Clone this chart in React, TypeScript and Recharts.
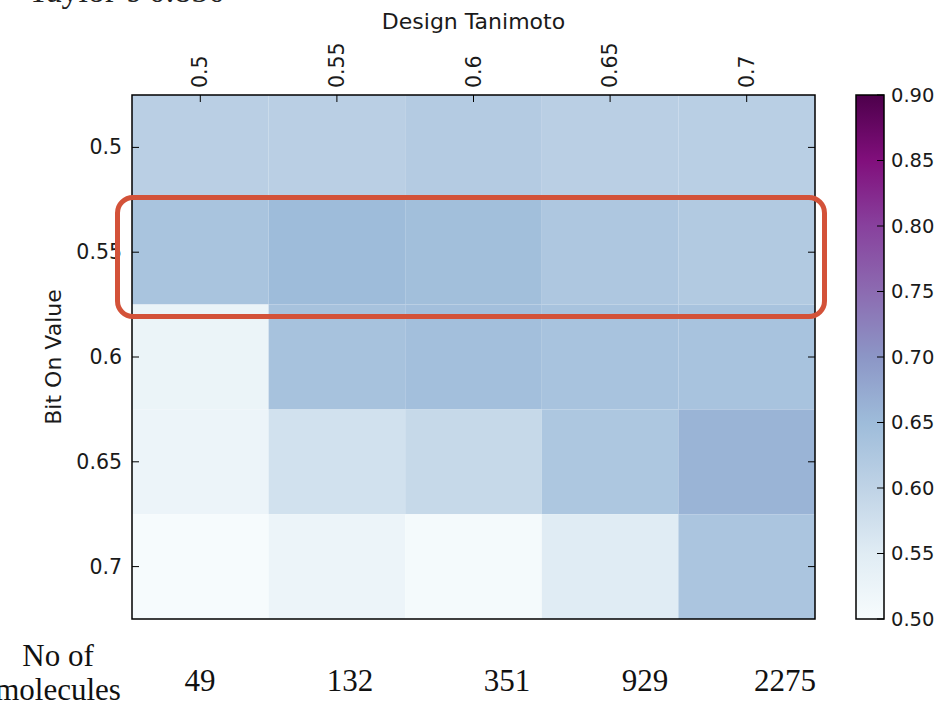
import React from 'react';
import { ScatterChart, Scatter, XAxis, YAxis, ReferenceArea } from 'recharts';

// ---- data ----
const designTanimoto = [0.5, 0.55, 0.6, 0.65, 0.7];
const bitOnValue = [0.5, 0.55, 0.6, 0.65, 0.7];
const moleculeCounts = [49, 132, 351, 929, 2275];
const row050 = [0.608, 0.608, 0.617, 0.608, 0.609];
const row055 = [0.633, 0.65, 0.644, 0.626, 0.62];
const row060 = [0.526, 0.636, 0.643, 0.635, 0.635];
const row065 = [0.524, 0.573, 0.589, 0.627, 0.66];
const row070 = [0.502, 0.524, 0.506, 0.55, 0.63];
const rows = [row050, row055, row060, row065, row070];
const colorbarTicks = [0.5, 0.55, 0.6, 0.65, 0.7, 0.75, 0.8, 0.85, 0.9];
const vMin = 0.5;
const vMax = 0.9;
const halfStep = 0.025;

// slide annotation layout (text placed on the slide under the chart)
const moleculeLabelLeft = [200, 350, 507, 645, 785];

// matplotlib BuPu
const bupu = ['#f7fcfd', '#e0ecf4', '#bfd3e6', '#9ebcda', '#8c96c6', '#8c6bb1', '#88419d', '#810f7c', '#4d004b'];

function hexToRgb(h: string) {
  return [parseInt(h.slice(1, 3), 16), parseInt(h.slice(3, 5), 16), parseInt(h.slice(5, 7), 16)];
}
function colorFor(v: number) {
  let t = (v - vMin) / (vMax - vMin);
  t = Math.max(0, Math.min(1, t));
  const p = t * (bupu.length - 1);
  const i = Math.min(bupu.length - 2, Math.floor(p));
  const f = p - i;
  const a = hexToRgb(bupu[i]);
  const b = hexToRgb(bupu[i + 1]);
  const c = a.map((av, k) => Math.round(av + (b[k] - av) * f));
  return `rgb(${c[0]},${c[1]},${c[2]})`;
}

const cells = bitOnValue.flatMap((b, i) => rows[i].map((v, j) => ({ x: designTanimoto[j], y: b, v })));
const domain: [number, number] = [designTanimoto[0] - halfStep, designTanimoto[designTanimoto.length - 1] + halfStep];

const sans = 'DejaVu Sans';
const serif = 'Liberation Serif';
const ink = '#1a1a1a';

const TopTick = (props: any) => {
  const { x, y, payload } = props;
  return (
    <g>
      <line x1={x} y1={y} x2={x} y2={y + 7} stroke="#000" strokeWidth={1} />
      <text x={x} y={y - 7} transform={`rotate(-90 ${x} ${y - 7})`} textAnchor="start" dominantBaseline="central" fontSize={20.5} fontFamily={sans} fill={ink}>
        {String(payload.value)}
      </text>
    </g>
  );
};

const LeftTick = (props: any) => {
  const { x, y, payload } = props;
  return (
    <g>
      <line x1={x} y1={y} x2={x + 7} y2={y} stroke="#000" strokeWidth={1} />
      <text x={x - 10} y={y} textAnchor="end" dominantBaseline="central" fontSize={20.5} fontFamily={sans} fill={ink}>
        {String(payload.value)}
      </text>
    </g>
  );
};

const RightTick = (props: any) => {
  const { x, y } = props;
  return <line x1={x} y1={y} x2={x - 7} y2={y} stroke="#000" strokeWidth={1} />;
};

const CbTick = (props: any) => {
  const { x, y, payload } = props;
  return (
    <g>
      <line x1={x} y1={y} x2={x - 7} y2={y} stroke="#000" strokeWidth={1} />
      <text x={x + 7} y={y} textAnchor="start" dominantBaseline="central" fontSize={19.5} fontFamily={sans} fill={ink}>
        {Number(payload.value).toFixed(2)}
      </text>
    </g>
  );
};

const NoShape = () => <g />;

export default function App() {
  return (
    <div style={{ position: 'absolute', left: 0, top: 0, width: 941, height: 703, overflow: 'hidden', background: '#fff' }}>
      <svg width={300} height={20} style={{ position: 'absolute', left: 0, top: 0 }}>
        <text x={28} y={2} fontSize={34} fontFamily={serif} fill="#222">Taylor’s 0.850</text>
      </svg>
      <ScatterChart width={941} height={703} margin={{ top: 35, right: 125, bottom: 84, left: 52 }} style={{ position: 'absolute', left: 0, top: 0 }}>
        <XAxis
          xAxisId="top"
          orientation="top"
          dataKey="x"
          type="number"
          domain={domain}
          ticks={designTanimoto}
          height={60}
          axisLine={false}
          tickLine={false}
          tickSize={0}
          tickMargin={0}
          tick={TopTick}
          interval={0}
          allowDataOverflow
          label={({ viewBox }: any) => (
            <text x={viewBox.x + viewBox.width / 2} y={viewBox.y - 6} textAnchor="middle" fontSize={22} fontFamily={sans} fill={ink}>
              Design Tanimoto
            </text>
          )}
        />
        <YAxis
          yAxisId="left"
          orientation="left"
          dataKey="y"
          type="number"
          domain={domain}
          reversed
          ticks={bitOnValue}
          width={80}
          axisLine={false}
          tickLine={false}
          tickSize={0}
          tickMargin={0}
          tick={LeftTick}
          interval={0}
          allowDataOverflow
          label={({ viewBox }: any) => (
            <text
              x={viewBox.x + 1}
              y={viewBox.y + viewBox.height / 2}
              transform={`rotate(-90 ${viewBox.x + 1} ${viewBox.y + viewBox.height / 2})`}
              textAnchor="middle"
              dominantBaseline="central"
              fontSize={22}
              fontFamily={sans}
              fill={ink}
            >
              Bit On Value
            </text>
          )}
        />
        <YAxis
          yAxisId="right"
          orientation="right"
          dataKey="y"
          type="number"
          domain={domain}
          reversed
          ticks={bitOnValue}
          width={1}
          axisLine={false}
          tickLine={false}
          tickSize={0}
          tickMargin={0}
          tick={RightTick}
          interval={0}
          allowDataOverflow
        />
        {cells.map((c, k) => (
          <ReferenceArea
            key={k}
            xAxisId="top"
            yAxisId="left"
            x1={c.x - halfStep}
            x2={c.x + halfStep}
            y1={c.y - halfStep}
            y2={c.y + halfStep}
            fill={colorFor(c.v)}
            fillOpacity={1}
            stroke="none"
            ifOverflow="visible"
          />
        ))}
        <ReferenceArea
          xAxisId="top"
          yAxisId="left"
          x1={domain[0]}
          x2={domain[1]}
          y1={domain[0]}
          y2={domain[1]}
          fill="none"
          stroke="#000"
          strokeWidth={1.5}
          ifOverflow="visible"
        />
        <Scatter xAxisId="top" yAxisId="left" data={cells} shape={NoShape} isAnimationActive={false} />
        <Scatter xAxisId="top" yAxisId="right" data={cells} shape={NoShape} isAnimationActive={false} />
      </ScatterChart>

      <ScatterChart width={101} height={703} margin={{ top: 95, right: 0, bottom: 84, left: 16 }} style={{ position: 'absolute', left: 840, top: 0 }}>
        <defs>
          <linearGradient id="bupuGrad" x1="0" y1="1" x2="0" y2="0">
            {bupu.map((c, i) => (
              <stop key={i} offset={i / (bupu.length - 1)} stopColor={c} />
            ))}
          </linearGradient>
        </defs>
        <XAxis xAxisId="cb" dataKey="x" type="number" domain={[0, 1]} hide />
        <YAxis
          yAxisId="cb"
          orientation="right"
          dataKey="y"
          type="number"
          domain={[vMin, vMax]}
          ticks={colorbarTicks}
          width={57}
          axisLine={false}
          tickLine={false}
          tickSize={0}
          tickMargin={0}
          tick={CbTick}
          interval={0}
        />
        <ReferenceArea xAxisId="cb" yAxisId="cb" x1={0} x2={1} y1={vMin} y2={vMax} fill="url(#bupuGrad)" fillOpacity={1} stroke="#000" strokeWidth={1.5} ifOverflow="visible" />
        <Scatter xAxisId="cb" yAxisId="cb" data={colorbarTicks.map((v) => ({ x: 0.5, y: v }))} shape={NoShape} isAnimationActive={false} />
      </ScatterChart>

      <svg width={941} height={83} style={{ position: 'absolute', left: 0, top: 620 }}>
        <text x={58} y={46} textAnchor="middle" fontSize={31} fontFamily={serif} fill="#111">No of</text>
        <text x={58} y={80} textAnchor="middle" fontSize={31} fontFamily={serif} fill="#111">molecules</text>
        {moleculeCounts.map((n, i) => (
          <text key={i} x={moleculeLabelLeft[i]} y={71} textAnchor="middle" fontSize={31} fontFamily={serif} fill="#111">
            {String(n)}
          </text>
        ))}
      </svg>

      <div
        style={{
          position: 'absolute',
          left: 115,
          top: 195,
          width: 712,
          height: 124,
          border: '5px solid #d35239',
          borderRadius: 18,
          boxSizing: 'border-box',
        }}
      />
    </div>
  );
}
